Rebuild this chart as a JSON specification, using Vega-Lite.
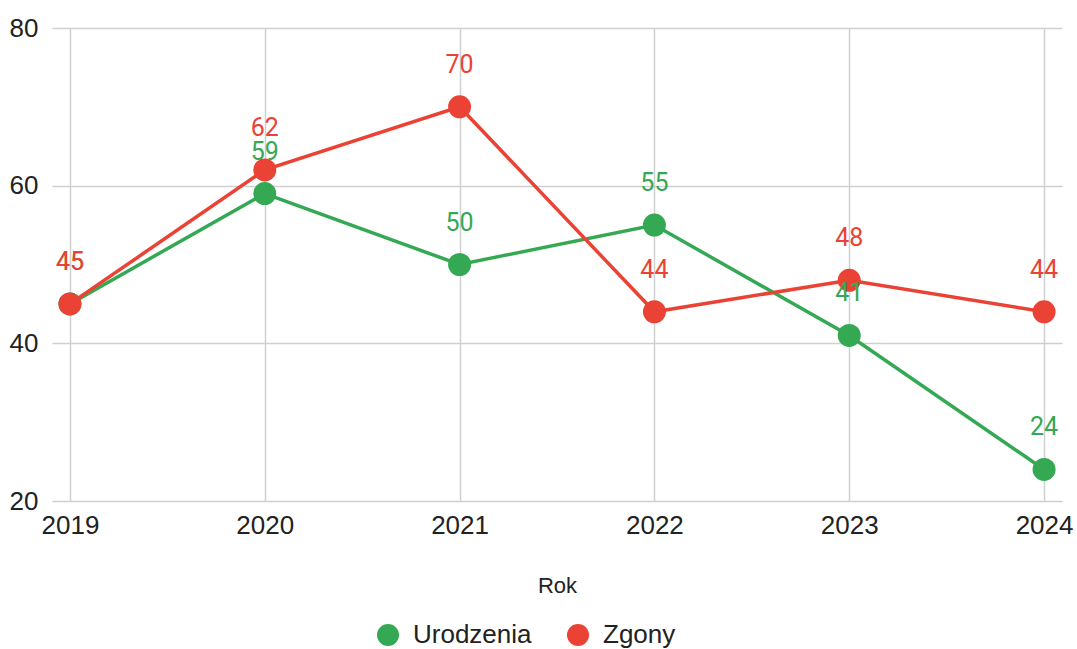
{
  "$schema": "https://vega.github.io/schema/vega-lite/v6.json",
  "width": 1010,
  "height": 473,
  "autosize": {"type": "none"},
  "padding": {"left": 52, "top": 28, "right": 15, "bottom": 148},
  "background": "white",
  "config": {
    "view": {"stroke": null},
    "axis": {"labelFont": "Liberation Sans", "titleFont": "Liberation Sans", "labelColor": "#222222", "titleColor": "#222222", "gridColor": "#d0d0d0", "gridWidth": 1.5, "domain": false, "ticks": false, "tickSize": 0},
    "legend": {"labelFont": "Liberation Sans"}
  },
  "data": {
    "values": [
      {"rok": "2019", "seria": "Urodzenia", "wartosc": 45},
      {"rok": "2020", "seria": "Urodzenia", "wartosc": 59},
      {"rok": "2021", "seria": "Urodzenia", "wartosc": 50},
      {"rok": "2022", "seria": "Urodzenia", "wartosc": 55},
      {"rok": "2023", "seria": "Urodzenia", "wartosc": 41},
      {"rok": "2024", "seria": "Urodzenia", "wartosc": 24},
      {"rok": "2019", "seria": "Zgony", "wartosc": 45},
      {"rok": "2020", "seria": "Zgony", "wartosc": 62},
      {"rok": "2021", "seria": "Zgony", "wartosc": 70},
      {"rok": "2022", "seria": "Zgony", "wartosc": 44},
      {"rok": "2023", "seria": "Zgony", "wartosc": 48},
      {"rok": "2024", "seria": "Zgony", "wartosc": 44}
    ]
  },
  "encoding": {
    "x": {
      "field": "rok", "type": "ordinal",
      "scale": {"type": "point", "padding": 0.092},
      "axis": {"title": "Rok", "labelAngle": 0, "labelFontSize": 26, "labelPadding": 11, "titleFontSize": 22, "titleFontWeight": "normal", "titlePadding": 37, "grid": true}
    },
    "y": {
      "field": "wartosc", "type": "quantitative",
      "scale": {"domain": [20, 80], "nice": false, "zero": false},
      "axis": {"title": null, "values": [20, 40, 60, 80], "labelFontSize": 26, "labelPadding": 14, "grid": true}
    },
    "color": {
      "field": "seria", "type": "nominal",
      "scale": {"domain": ["Urodzenia", "Zgony"], "range": ["#34a853", "#ea4335"]},
      "legend": {"title": null, "orient": "none", "direction": "horizontal", "legendX": 323, "legendY": 594, "padding": 0, "symbolType": "circle", "symbolSize": 484, "symbolStrokeWidth": 0, "symbolOpacity": 1, "labelFontSize": 26, "labelColor": "#222222", "labelOffset": 12, "columnPadding": 33}
    }
  },
  "layer": [
    {"mark": {"type": "line", "strokeWidth": 3.5}},
    {"mark": {"type": "point", "shape": "circle", "filled": true, "opacity": 1, "size": 529}},
    {
      "mark": {"type": "text", "font": "Roboto", "fontSize": 25, "dy": -34, "baseline": "alphabetic", "align": "center"},
      "encoding": {"text": {"field": "wartosc", "type": "quantitative"}}
    }
  ]
}
